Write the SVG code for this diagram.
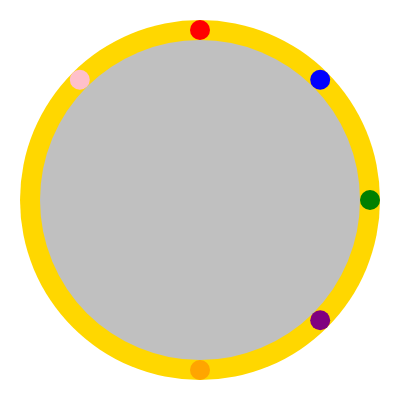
<svg xmlns="http://www.w3.org/2000/svg" width="400" height="400" viewBox="0 0 400 400">
<style>.dot{stroke:none}</style>
<rect width="400" height="400" fill="#ffffff"/>
<g id="ring"><circle cx="200" cy="200" r="180" fill="#ffd700"/></g>
<g id="disc"><circle cx="200" cy="200" r="160" fill="#c0c0c0"/></g>
<g id="connectors"></g>
<g id="dot-red"><circle class="dot" cx="200" cy="30" r="10" fill="red"/></g>
<g id="dot-blue"><circle class="dot" cx="320.2" cy="79.8" r="10" fill="blue"/></g>
<g id="dot-green"><circle class="dot" cx="370" cy="200" r="10" fill="green"/></g>
<g id="dot-purple"><circle class="dot" cx="320.2" cy="320.2" r="10" fill="purple"/></g>
<g id="dot-orange"><circle class="dot" cx="200" cy="370" r="10" fill="orange"/></g>
<g id="dot-pink"><circle class="dot" cx="79.8" cy="79.8" r="10" fill="pink"/></g>
</svg>
